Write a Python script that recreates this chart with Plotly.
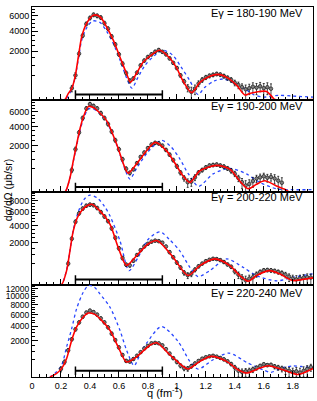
import numpy as np
import plotly.graph_objects as go
from plotly.subplots import make_subplots

# ---------------- data ----------------
labels = ["E\u03b3 = 180-190 MeV", "E\u03b3 = 190-200 MeV", "E\u03b3 = 200-220 MeV", "E\u03b3 = 220-240 MeV"]

# panel 1 : 180-190 MeV
q1 = [0.275, 0.3, 0.325, 0.35, 0.375, 0.4, 0.425, 0.45, 0.475, 0.5, 0.525, 0.55, 0.575, 0.6, 0.625, 0.65,
      0.675, 0.7, 0.725, 0.75, 0.775, 0.8, 0.825, 0.85, 0.875, 0.9, 0.925, 0.95, 0.975, 1.0, 1.025, 1.05,
      1.075, 1.1, 1.125, 1.15, 1.175, 1.2, 1.225, 1.25, 1.275, 1.3, 1.325, 1.35, 1.375, 1.4, 1.425, 1.45,
      1.475, 1.5, 1.525, 1.55, 1.575, 1.6, 1.625, 1.65]
d1 = [110, 500, 1800, 3500, 4900, 5700, 6150, 6000, 5750, 5000, 4300, 3400, 2600, 1750, 1100, 600,
      300, 380, 620, 1000, 1300, 1550, 1750, 1950, 2100, 1950, 1750, 1450, 1150, 850, 500, 280,
      120, 50, 100, 220, 330, 420, 480, 520, 560, 530, 470, 400, 330, 240, 180, 130,
      90, 110, 140, 120, 150, 110, 130, 100]
e1 = [60, 120, 180, 220, 250, 270, 280, 280, 270, 250, 230, 210, 180, 150, 120, 90,
      70, 60, 70, 90, 110, 120, 130, 140, 140, 130, 120, 110, 100, 90, 80, 70,
      70, 80, 80, 80, 80, 80, 80, 80, 80, 80, 80, 80, 80, 80, 80, 80,
      90, 90, 100, 100, 100, 110, 110, 110]
fit1_q = [0.2, 0.228, 0.25, 0.274, 0.297, 0.32, 0.343, 0.377, 0.423, 0.469, 0.515, 0.561, 0.607, 0.653, 0.68,
          0.72, 0.768, 0.837, 0.88, 0.952, 1.0, 1.041, 1.103, 1.159, 1.228, 1.283, 1.345, 1.414, 1.469, 1.503,
          1.572, 1.62, 1.662, 1.676, 1.94]
fit1_v = [0, 0, 30, 100, 430, 1550, 3360, 4970, 6100, 5870, 4530, 3020, 1550, 570, 260,
          570, 1200, 1810, 2080, 1460, 830, 310, 40, 250, 460, 540, 420, 170, 18, 31,
          55, 56, 3, 0, 0]
th1_q = [0.2, 0.23, 0.274, 0.297, 0.32, 0.343, 0.377, 0.42, 0.469, 0.515, 0.561, 0.607, 0.653, 0.69, 0.73,
         0.78, 0.85, 0.906, 0.97, 1.03, 1.09, 1.147, 1.19, 1.26, 1.32, 1.40, 1.47, 1.53, 1.60, 1.7, 1.8, 1.94]
th1_v = [0, 0, 90, 400, 1400, 3000, 4400, 5300, 5100, 4000, 2700, 1350, 400, 110, 400,
         1000, 1700, 2080, 1700, 900, 300, 20, 120, 300, 360, 230, 100, 20, 5, 15, 10, 5]

# panel 2 : 190-200 MeV
q2 = [0.275, 0.3, 0.325, 0.35, 0.375, 0.4, 0.425, 0.45, 0.475, 0.5, 0.525, 0.55, 0.575, 0.6, 0.625, 0.65,
      0.675, 0.7, 0.725, 0.75, 0.775, 0.8, 0.825, 0.85, 0.875, 0.9, 0.925, 0.95, 0.975, 1.0, 1.025, 1.05,
      1.075, 1.1, 1.125, 1.15, 1.175, 1.2, 1.225, 1.25, 1.275, 1.3, 1.325, 1.35, 1.375, 1.4, 1.425, 1.45,
      1.475, 1.5, 1.525, 1.55, 1.575, 1.6, 1.625, 1.65, 1.675, 1.7, 1.725]
d2 = [450, 1700, 3300, 5100, 6500, 7200, 6900, 6500, 5800, 5100, 4300, 3400, 2500, 1700, 1000, 500,
      340, 480, 780, 1150, 1450, 1800, 2100, 2250, 2200, 2000, 1650, 1300, 950, 620, 350, 180,
      90, 100, 200, 350, 450, 560, 650, 680, 700, 650, 600, 520, 420, 310, 180, 90,
      40, 60, 110, 170, 200, 230, 190, 210, 170, 120, 80]
e2 = [100, 180, 230, 270, 300, 300, 300, 290, 280, 260, 240, 220, 190, 160, 120, 90,
      70, 70, 80, 100, 120, 130, 140, 150, 150, 140, 130, 120, 110, 100, 80, 70,
      70, 70, 80, 80, 80, 90, 90, 90, 90, 90, 90, 90, 90, 90, 80, 80,
      80, 80, 90, 90, 100, 100, 100, 100, 110, 110, 110]
fit2_q = [0.2, 0.228, 0.262, 0.285, 0.308, 0.331, 0.354, 0.388, 0.42, 0.46, 0.515, 0.584, 0.641, 0.664, 0.72,
          0.791, 0.85, 0.929, 0.998, 1.043, 1.09, 1.159, 1.274, 1.366, 1.434, 1.492, 1.55, 1.607, 1.688, 1.745,
          1.78, 1.94]
fit2_v = [0, 0, 190, 900, 2100, 3700, 5200, 6800, 6700, 6000, 4750, 2150, 560, 330, 720,
          1580, 2300, 1580, 640, 240, 85, 420, 660, 485, 114, 10, 56, 118, 34, 7,
          0, 0]
th2_q = [0.2, 0.228, 0.262, 0.285, 0.308, 0.331, 0.354, 0.39, 0.43, 0.47, 0.52, 0.584, 0.641, 0.676, 0.72,
         0.80, 0.894, 0.96, 1.02, 1.08, 1.15, 1.25, 1.366, 1.48, 1.57, 1.69, 1.8, 1.94]
th2_v = [0, 0, 180, 850, 2000, 3500, 4900, 6450, 6350, 5700, 4400, 2100, 500, 155, 500,
         1500, 2480, 1900, 1030, 305, 30, 305, 520, 305, 89, 9, 5, 5]

# panel 3 : 200-220 MeV
q3 = [0.25, 0.275, 0.3, 0.325, 0.35, 0.375, 0.4, 0.425, 0.45, 0.475, 0.5, 0.525, 0.55, 0.575, 0.6, 0.625,
      0.65, 0.675, 0.7, 0.725, 0.75, 0.775, 0.8, 0.825, 0.85, 0.875, 0.9, 0.925, 0.95, 0.975, 1.0, 1.025,
      1.05, 1.075, 1.1, 1.125, 1.15, 1.175, 1.2, 1.225, 1.25, 1.275, 1.3, 1.325, 1.35, 1.375, 1.4, 1.425,
      1.45, 1.475, 1.5, 1.525, 1.55, 1.575, 1.6, 1.625, 1.65, 1.675, 1.7, 1.725, 1.75, 1.775, 1.8, 1.825,
      1.85, 1.875, 1.9, 1.925]
d3 = [500, 2400, 4500, 5800, 6600, 7100, 7300, 7200, 6700, 6000, 5300, 4600, 3600, 2500, 1500, 800,
      450, 420, 650, 1000, 1350, 1650, 1900, 2100, 2200, 2150, 2000, 1650, 1200, 850, 550, 330,
      160, 100, 130, 250, 380, 500, 620, 700, 760, 740, 680, 580, 460, 360, 200, 110,
      50, 20, 40, 60, 120, 180, 230, 240, 230, 210, 180, 150, 110, 70, 40, 30,
      40, 55, 60, 55]
e3 = [100, 200, 250, 280, 300, 300, 300, 300, 300, 290, 270, 250, 220, 190, 150, 110,
      80, 80, 90, 100, 110, 120, 130, 140, 140, 140, 140, 130, 120, 100, 90, 70,
      60, 60, 60, 70, 70, 70, 80, 80, 80, 80, 80, 80, 70, 70, 70, 70,
      60, 60, 60, 60, 60, 60, 60, 60, 60, 60, 60, 60, 60, 60, 60, 60,
      60, 60, 70, 70]
fit3_q = [0.19, 0.205, 0.239, 0.262, 0.285, 0.319, 0.377, 0.412, 0.469, 0.538, 0.595, 0.653, 0.722, 0.802, 0.865,
          0.975, 1.078, 1.159, 1.262, 1.366, 1.434, 1.492, 1.55, 1.641, 1.71, 1.80, 1.87, 1.94]
fit3_v = [0, 0, 220, 1300, 3300, 5400, 7060, 7370, 6200, 4170, 1580, 420, 950, 1880, 2200,
          840, 92, 410, 750, 410, 92, 12, 92, 222, 130, 18, 30, 51]
th3_q = [0.19, 0.205, 0.239, 0.262, 0.285, 0.319, 0.36, 0.40, 0.45, 0.50, 0.538, 0.607, 0.67, 0.73, 0.80,
         0.883, 0.95, 1.02, 1.09, 1.147, 1.228, 1.343, 1.457, 1.55, 1.69, 1.80, 1.87, 1.94]
th3_v = [0, 0, 250, 1300, 3400, 6000, 8300, 9150, 8600, 7000, 5400, 2200, 220, 800, 2300,
         3180, 2300, 1300, 340, 72, 222, 747, 339, 90, 15, 60, 92, 130]

# panel 4 : 220-240 MeV
q4 = [0.2, 0.225, 0.25, 0.275, 0.3, 0.325, 0.35, 0.375, 0.4, 0.425, 0.45, 0.475, 0.5, 0.525, 0.55, 0.575,
      0.6, 0.625, 0.65, 0.675, 0.7, 0.725, 0.75, 0.775, 0.8, 0.825, 0.85, 0.875, 0.9, 0.925, 0.95, 0.975,
      1.0, 1.025, 1.05, 1.075, 1.1, 1.125, 1.15, 1.175, 1.2, 1.225, 1.25, 1.275, 1.3, 1.325, 1.35, 1.375,
      1.4, 1.425, 1.45, 1.475, 1.5, 1.525, 1.55, 1.575, 1.6, 1.625, 1.65, 1.675, 1.7, 1.725, 1.75, 1.775,
      1.8, 1.825, 1.85, 1.875, 1.9, 1.925]
d4 = [100, 350, 1100, 2200, 3500, 4600, 5600, 6400, 6800, 6500, 6000, 5300, 4600, 3800, 2900, 2100,
      1350, 750, 400, 370, 500, 700, 950, 1250, 1500, 1750, 1800, 1750, 1550, 1200, 850, 550,
      350, 200, 120, 110, 180, 280, 400, 520, 600, 660, 700, 640, 560, 480, 380, 260,
      140, 60, 40, 50, 60, 90, 130, 190, 250, 220, 230, 170, 140, 110, 80, 60,
      40, 50, 30, 60, 100, 150]
e4 = [60, 100, 150, 200, 250, 270, 290, 300, 300, 300, 290, 280, 260, 240, 210, 180,
      140, 100, 80, 70, 80, 90, 100, 110, 120, 130, 130, 130, 120, 110, 100, 90,
      80, 70, 60, 60, 60, 70, 70, 70, 80, 80, 80, 80, 80, 80, 70, 70,
      70, 60, 60, 60, 60, 60, 60, 60, 60, 60, 60, 70, 70, 70, 70, 80,
      80, 90, 90, 100, 100, 100]
fit4_q = [0.124, 0.17, 0.205, 0.239, 0.274, 0.308, 0.354, 0.388, 0.43, 0.469, 0.538, 0.595, 0.653, 0.722, 0.814,
          0.86, 0.952, 1.043, 1.078, 1.159, 1.239, 1.343, 1.423, 1.48, 1.572, 1.63, 1.733, 1.83, 1.89, 1.94]
fit4_v = [0, 20, 115, 530, 2090, 3860, 5540, 6300, 6100, 5250, 3370, 1400, 350, 630, 1560,
          1800, 760, 174, 98, 376, 654, 376, 81, 24, 123, 195, 81, 10, 40, 110]
th4_q = [0.124, 0.159, 0.205, 0.239, 0.274, 0.308, 0.354, 0.39, 0.43, 0.469, 0.538, 0.607, 0.653, 0.705, 0.75,
         0.791, 0.894, 1.009, 1.09, 1.147, 1.25, 1.36, 1.49, 1.595, 1.65, 1.72, 1.80, 1.86, 1.94]
th4_v = [0, 21, 220, 1400, 3610, 7190, 11090, 12900, 12500, 10670, 7530, 3370, 1110, 200, 900,
         1760, 3920, 1940, 376, 98, 457, 880, 300, 81, 34, 120, 190, 170, 130]

# horizontal range bar (q range) per panel
bar_q = [0.3, 0.9]
bar_v = [22, 24, 28, 60]

# axis ticks
y_major = [[2000, 4000, 6000], [2000, 4000, 6000], [2000, 4000, 6000, 8000],
           [2000, 4000, 6000, 8000, 10000, 12000]]
y_top = [7340, 7980, 9800, 13200]

panels = [(q1, d1, e1, fit1_q, fit1_v, th1_q, th1_v),
          (q2, d2, e2, fit2_q, fit2_v, th2_q, th2_v),
          (q3, d3, e3, fit3_q, fit3_v, th3_q, th3_v),
          (q4, d4, e4, fit4_q, fit4_v, th4_q, th4_v)]


def sq(v):
    return np.sqrt(np.clip(np.asarray(v, dtype=float), 0, None))


FONT = "Liberation Sans, Arial, Helvetica, sans-serif"

fig = make_subplots(rows=4, cols=1, shared_xaxes=True, vertical_spacing=0)

for i, (q, d, e, fq, fv, tq, tv) in enumerate(panels):
    r = i + 1
    n = min(len(q), len(d), len(e))
    q_, d_, e_ = np.array(q[:n]), np.array(d[:n], float), np.array(e[:n], float)
    y = sq(d_)
    up = sq(d_ + e_) - y
    dn = y - sq(d_ - e_)
    # theory (blue dotted)
    fig.add_trace(go.Scatter(x=tq, y=sq(tv), mode="lines",
                             line=dict(color="rgb(40,70,255)", width=1.3, dash="dot", shape="spline", smoothing=0.8),
                             hoverinfo="skip", showlegend=False), row=r, col=1)
    # data
    fig.add_trace(go.Scatter(x=q_, y=y, mode="markers",
                             marker=dict(symbol="circle", size=3.6, color="#808080",
                                         line=dict(color="black", width=0.6)),
                             error_y=dict(type="data", symmetric=False, array=up, arrayminus=dn,
                                          color="black", thickness=0.7, width=1),
                             showlegend=False), row=r, col=1)
    # fit (red)
    fig.add_trace(go.Scatter(x=fq, y=sq(fv), mode="lines",
                             line=dict(color="red", width=1.6, shape="spline", smoothing=0.8),
                             hoverinfo="skip", showlegend=False), row=r, col=1)
    # range bar
    fig.add_trace(go.Scatter(x=bar_q, y=sq([bar_v[i], bar_v[i]]), mode="lines+markers",
                             line=dict(color="black", width=2),
                             marker=dict(symbol="line-ns-open", size=6, line=dict(color="black", width=1.5)),
                             hoverinfo="skip", showlegend=False), row=r, col=1)

    minor_vals = [v for v in range(500, y_top[i], 500) if v not in y_major[i]]
    fig.update_yaxes(row=r, col=1, range=[0, float(sq(y_top[i]))], automargin=False,
                     tickmode="array", tickvals=list(sq(y_major[i])),
                     ticktext=[str(v) for v in y_major[i]],
                     ticks="inside", ticklen=6, tickwidth=1, tickcolor="black",
                     minor=dict(tickmode="array", tickvals=list(sq(minor_vals)), ticks="inside",
                                ticklen=3, tickcolor="black"),
                     showline=True, linecolor="black", linewidth=1, mirror=True,
                     showgrid=False, zeroline=False,
                     tickfont=dict(family=FONT, size=9 if i < 3 else 8.5, color="black"))
    fig.update_xaxes(row=r, col=1, range=[0, 1.94], automargin=False,
                     tickmode="linear", tick0=0, dtick=0.2,
                     ticks="inside", ticklen=6, tickwidth=1, tickcolor="black",
                     minor=dict(tick0=0, dtick=0.05, ticks="inside", ticklen=3, tickcolor="black"),
                     showline=True, linecolor="black", linewidth=1, mirror=True,
                     showgrid=False, zeroline=False,
                     tickfont=dict(family=FONT, size=9, color="black"))

# energy labels
label_y = [0.984, 0.732, 0.486, 0.227]
for lab, yy in zip(labels, label_y):
    fig.add_annotation(text=lab, xref="paper", yref="paper", x=0.972, y=yy,
                       xanchor="right", yanchor="middle", showarrow=False,
                       font=dict(family=FONT, size=11, color="black"))

fig.add_annotation(text="d\u03c3/d\u03a9 (\u03bcb/sr)", xref="paper", yref="paper", x=-0.085, y=0.505,
                   textangle=-90, xanchor="center", yanchor="middle", showarrow=False,
                   font=dict(family=FONT, size=10.5, color="black"))
fig.add_annotation(text="q (fm<sup>-1</sup>)", xref="paper", yref="paper", x=0.473, y=-0.0622,
                   xanchor="center", yanchor="bottom", showarrow=False, borderpad=0,
                   font=dict(family=FONT, size=11, color="black"))

fig.update_layout(width=317, height=401, margin=dict(l=32, r=4, t=7, b=24, autoexpand=False),
                  paper_bgcolor="white", plot_bgcolor="white", showlegend=False)

fig.write_html("out.html", config={"displayModeBar": False},
               post_script="document.body.style.margin='0px';")
